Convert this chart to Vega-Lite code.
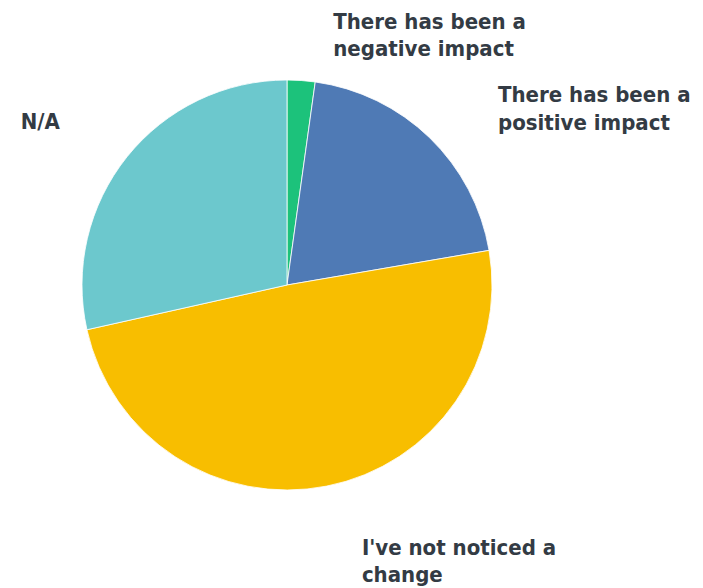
{
  "$schema": "https://vega.github.io/schema/vega-lite/v6.json",
  "width": 574,
  "height": 570,
  "autosize": "none",
  "padding": {"left": 0, "top": 0, "right": 129, "bottom": 18},
  "background": "white",
  "view": {"stroke": null},
  "data": {
    "values": [
      {"answer": "There has been a negative impact", "label": "There has been a\nnegative impact", "share": 2.2, "order": 1},
      {"answer": "There has been a positive impact", "label": "There has been a\npositive impact", "share": 20.1, "order": 2},
      {"answer": "I've not noticed a change", "label": "I've not noticed a\nchange", "share": 49.2, "order": 3},
      {"answer": "N/A", "label": "N/A", "share": 28.5, "order": 4}
    ]
  },
  "encoding": {
    "theta": {"field": "share", "type": "quantitative", "stack": true},
    "order": {"field": "order", "type": "quantitative"}
  },
  "layer": [
    {
      "mark": {"type": "arc", "outerRadius": 205, "stroke": "white", "strokeWidth": 0.8},
      "encoding": {
        "color": {
          "field": "answer",
          "type": "nominal",
          "scale": {
            "domain": ["There has been a negative impact", "There has been a positive impact", "I've not noticed a change", "N/A"],
            "range": ["#1cc27b", "#4f7ab5", "#f8be00", "#6cc8cd"]
          },
          "legend": null
        }
      }
    },
    {
      "mark": {"type": "text", "align": "left", "baseline": "alphabetic", "dx": 29, "dy": -7, "font": "DejaVu Sans Condensed", "fontWeight": "bold", "fontSize": 22, "lineHeight": 27, "lineBreak": "\n", "fill": "#333b44"},
      "encoding": {"text": {"condition": {"test": "datum.order == 1", "field": "label"}, "value": ""}, "radius": {"value": 250}}
    },
    {
      "mark": {"type": "text", "align": "left", "baseline": "alphabetic", "dx": 37, "dy": -3.5, "font": "DejaVu Sans Condensed", "fontWeight": "bold", "fontSize": 22, "lineHeight": 28, "lineBreak": "\n", "fill": "#333b44"},
      "encoding": {"text": {"condition": {"test": "datum.order == 2", "field": "label"}, "value": ""}, "radius": {"value": 250}}
    },
    {
      "mark": {"type": "text", "align": "left", "baseline": "alphabetic", "dx": 26.5, "dy": 25, "font": "DejaVu Sans Condensed", "fontWeight": "bold", "fontSize": 22, "lineHeight": 27, "lineBreak": "\n", "fill": "#333b44"},
      "encoding": {"text": {"condition": {"test": "datum.order == 3", "field": "label"}, "value": ""}, "radius": {"value": 250}}
    },
    {
      "mark": {"type": "text", "align": "right", "baseline": "alphabetic", "dx": -32, "dy": 0, "font": "DejaVu Sans Condensed", "fontWeight": "bold", "fontSize": 22, "lineHeight": 27, "lineBreak": "\n", "fill": "#333b44"},
      "encoding": {"text": {"condition": {"test": "datum.order == 4", "field": "label"}, "value": ""}, "radius": {"value": 250}}
    }
  ]
}
